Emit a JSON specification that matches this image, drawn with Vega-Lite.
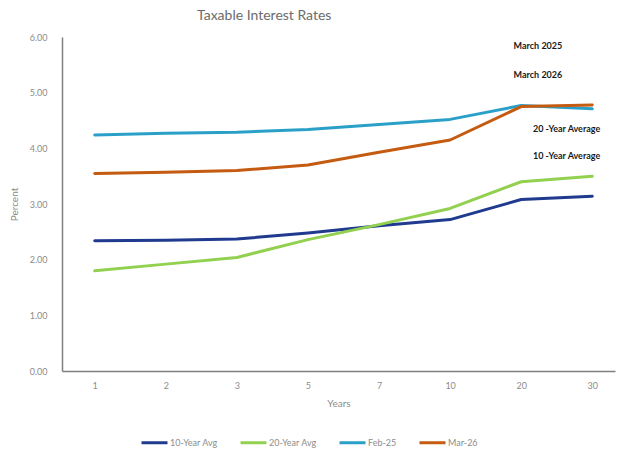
{
  "$schema": "https://vega.github.io/schema/vega-lite/v6.json",
  "width": 553,
  "height": 334,
  "autosize": {"type": "none"},
  "padding": {"left": 62, "top": 37, "right": 4, "bottom": 82},
  "background": "white",
  "title": {"text": "Taxable Interest Rates", "anchor": "start", "frame": "group", "dx": 135, "offset": 10, "fontSize": 14, "font": "Lato", "fontWeight": "normal", "color": "#6b6b6b"},
  "config": {"view": {"stroke": null}, "font": "Lato"},
  "layer": [
    {
      "data": {"values": [
        {"term": "1", "series": "10-Year Avg", "value": 2.34},
        {"term": "2", "series": "10-Year Avg", "value": 2.35},
        {"term": "3", "series": "10-Year Avg", "value": 2.37},
        {"term": "5", "series": "10-Year Avg", "value": 2.48},
        {"term": "7", "series": "10-Year Avg", "value": 2.61},
        {"term": "10", "series": "10-Year Avg", "value": 2.72},
        {"term": "20", "series": "10-Year Avg", "value": 3.08},
        {"term": "30", "series": "10-Year Avg", "value": 3.14},
        {"term": "1", "series": "20-Year Avg", "value": 1.8},
        {"term": "2", "series": "20-Year Avg", "value": 1.92},
        {"term": "3", "series": "20-Year Avg", "value": 2.04},
        {"term": "5", "series": "20-Year Avg", "value": 2.36},
        {"term": "7", "series": "20-Year Avg", "value": 2.63},
        {"term": "10", "series": "20-Year Avg", "value": 2.92},
        {"term": "20", "series": "20-Year Avg", "value": 3.4},
        {"term": "30", "series": "20-Year Avg", "value": 3.5},
        {"term": "1", "series": "Feb-25", "value": 4.24},
        {"term": "2", "series": "Feb-25", "value": 4.27},
        {"term": "3", "series": "Feb-25", "value": 4.29},
        {"term": "5", "series": "Feb-25", "value": 4.34},
        {"term": "7", "series": "Feb-25", "value": 4.43},
        {"term": "10", "series": "Feb-25", "value": 4.52},
        {"term": "20", "series": "Feb-25", "value": 4.77},
        {"term": "30", "series": "Feb-25", "value": 4.71},
        {"term": "1", "series": "Mar-26", "value": 3.55},
        {"term": "2", "series": "Mar-26", "value": 3.57},
        {"term": "3", "series": "Mar-26", "value": 3.6},
        {"term": "5", "series": "Mar-26", "value": 3.7},
        {"term": "7", "series": "Mar-26", "value": 3.93},
        {"term": "10", "series": "Mar-26", "value": 4.15},
        {"term": "20", "series": "Mar-26", "value": 4.75},
        {"term": "30", "series": "Mar-26", "value": 4.78}
      ]},
      "mark": {"type": "line", "strokeWidth": 3, "strokeCap": "round", "strokeJoin": "round"},
      "encoding": {
        "x": {"field": "term", "type": "ordinal", "sort": ["1", "2", "3", "5", "7", "10", "20", "30"],
          "scale": {"type": "point", "padding": 0.39, "align": 0.59},
          "axis": {"title": "Years", "labelAngle": 0, "ticks": false, "domainColor": "#7f7f7f", "domainWidth": 1.5, "labelColor": "#8c8c8c", "labelFontSize": 9, "labelPadding": 10, "titleColor": "#8c8c8c", "titleFontSize": 10, "titleFontWeight": "normal", "titlePadding": 8, "grid": false}},
        "y": {"field": "value", "type": "quantitative", "scale": {"domain": [0, 6]},
          "axis": {"title": "Percent", "values": [0, 1, 2, 3, 4, 5, 6], "format": ".2f", "ticks": false, "grid": false, "domainColor": "#7f7f7f", "domainWidth": 1.5, "labelColor": "#8c8c8c", "labelFontSize": 9, "labelPadding": 15, "titleColor": "#8c8c8c", "titleFontSize": 10, "titleFontWeight": "normal", "titlePadding": 10}},
        "color": {"field": "series", "type": "nominal",
          "scale": {"domain": ["10-Year Avg", "20-Year Avg", "Feb-25", "Mar-26"], "range": ["#1f3a8f", "#92d050", "#2aa0c8", "#c55a11"]},
          "legend": {"title": null, "orient": "none", "direction": "horizontal", "legendX": 78, "legendY": 391, "symbolType": "stroke", "symbolSize": 676, "symbolStrokeWidth": 3, "labelFontSize": 9, "labelColor": "#8c8c8c", "columnPadding": 16, "labelOffset": 1}}
      }
    },
    {
      "data": {"values": [
        {"label": "March 2025", "term": "30", "value": 5.84},
        {"label": "March 2026", "term": "30", "value": 5.32}
      ]},
      "mark": {"type": "text", "align": "right", "dx": -30, "fontSize": 9, "fontWeight": "bold", "color": "#1a1a1a"},
      "encoding": {
        "x": {"field": "term", "type": "ordinal", "sort": ["1", "2", "3", "5", "7", "10", "20", "30"]},
        "y": {"field": "value", "type": "quantitative"},
        "text": {"field": "label"}
      }
    },
    {
      "data": {"values": [
        {"label": "20 -Year Average", "term": "30", "value": 4.35},
        {"label": "10 -Year Average", "term": "30", "value": 3.86}
      ]},
      "mark": {"type": "text", "align": "right", "dx": 8, "fontSize": 9, "fontWeight": "bold", "color": "#1a1a1a"},
      "encoding": {
        "x": {"field": "term", "type": "ordinal", "sort": ["1", "2", "3", "5", "7", "10", "20", "30"]},
        "y": {"field": "value", "type": "quantitative"},
        "text": {"field": "label"}
      }
    }
  ]
}
